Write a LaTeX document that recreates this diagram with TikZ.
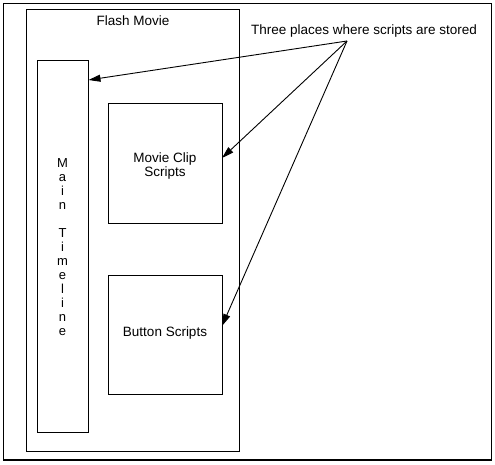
\documentclass[tikz,border=0pt]{standalone}
\usepackage{fontspec}
\setmainfont{Liberation Sans}
\usetikzlibrary{arrows.meta}
\begin{document}
\begin{tikzpicture}[x=1pt,y=-1pt,
  box/.style={draw,line width=0.9pt},
  lbl/.style={font=\fontsize{13.5}{14}\selectfont,inner sep=0pt,align=center},
  pointer/.style={line width=0.9pt,-{Triangle[length=12pt,width=7pt]}}]
\useasboundingbox (0,0) rectangle (495,464);
\draw[box,line width=1.2pt] (3.5,3.5) rectangle (491.5,460);
\node[box,minimum width=213pt,minimum height=442pt,inner sep=0pt] (flash) at (132.5,230.5) {};
\node[lbl] (flashlbl) at (133,21) {Flash Movie};
\node[box,minimum width=51pt,minimum height=372pt,inner sep=0pt] (main) at (62.5,246) {};
\node[lbl,font=\fontsize{13}{14}\selectfont] (mainlbl) at (62.5,247) {M\\a\\i\\n\\[14pt]T\\i\\m\\e\\l\\i\\n\\e};
\node[lbl] (cliplbl) at (165,166) {Movie Clip\\Scripts};
\node[box,minimum width=114pt,minimum height=120pt,inner sep=0pt] (clip) at (165,163) {};
\node[box,minimum width=114pt,minimum height=119pt,inner sep=0pt] (button) at (165,334.5) {};
\node[lbl] (buttonlbl) at (165,333) {Button Scripts};
\node[lbl] (three) at (364,31) {Three places where scripts are stored};
\coordinate (src) at (347,41);
\coordinate (tmain) at (88.5,80);
\coordinate (tclip) at (222,158);
\coordinate (tbutton) at (222,326);
\draw[pointer] (src) -- (tmain);
\draw[pointer] (src) -- (tclip);
\draw[pointer] (src) -- (tbutton);
\end{tikzpicture}
\end{document}
